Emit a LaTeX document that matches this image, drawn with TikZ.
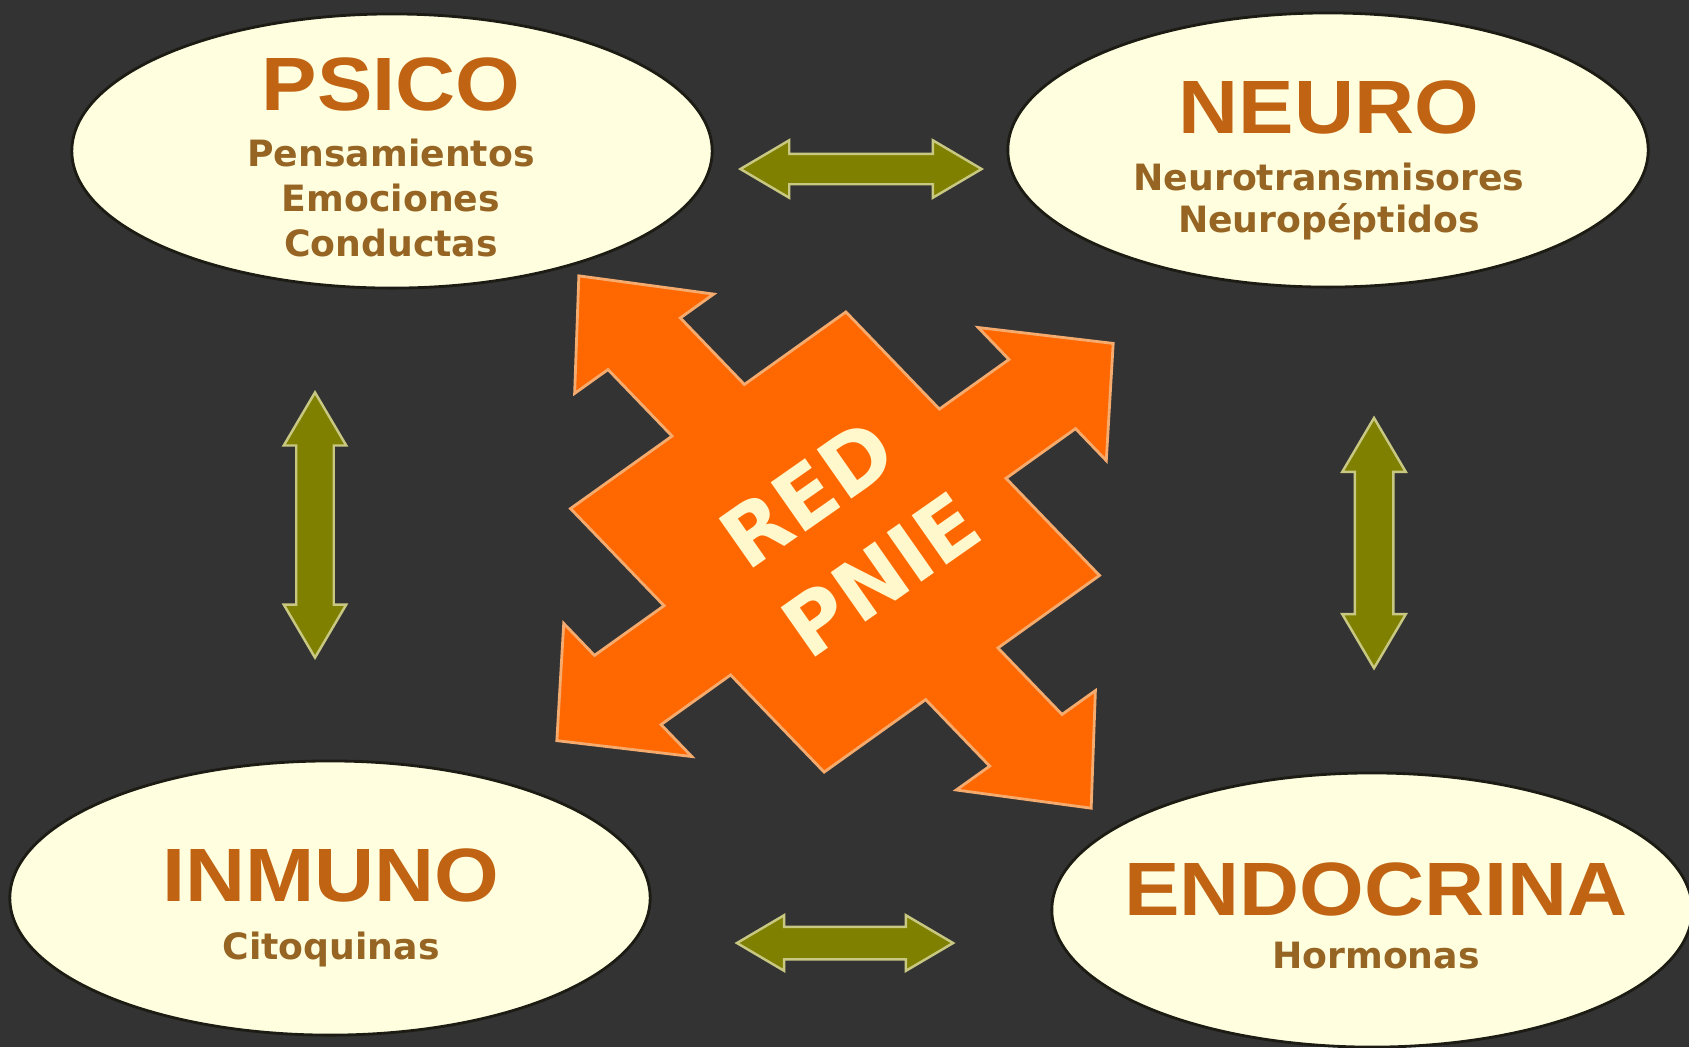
\documentclass[tikz,border=0pt]{standalone}
\usepackage{fontspec}
\usepackage{tikz}
\usetikzlibrary{shapes,positioning,calc}
\definecolor{bgdark}{RGB}{51,51,51}
\definecolor{cream}{RGB}{255,255,224}
\definecolor{rimdark}{RGB}{28,28,20}
\definecolor{titlebrown}{RGB}{192,100,20}
\definecolor{subbrown}{RGB}{150,100,35}
\definecolor{olivefill}{RGB}{128,128,0}
\definecolor{oliverim}{RGB}{200,200,130}
\definecolor{pnieorange}{RGB}{255,104,0}
\definecolor{pnierim}{RGB}{245,170,110}
\definecolor{pnietext}{RGB}{255,248,205}
\newfontfamily\titlefont[FakeStretch=1.1]{Liberation Sans}
\newfontfamily\subfont{DejaVu Sans}

\begin{document}
\begin{tikzpicture}[x=0.01cm, y=-0.01cm,
    lobe/.style={ellipse, fill=cream, draw=rimdark, line width=0.8pt, inner sep=0pt,
      minimum width=6.4cm, minimum height=2.74cm},
    lobetitle/.style={anchor=north, inner sep=0pt, text=titlebrown,
      font=\titlefont\bfseries\fontsize{21.5}{24}\selectfont},
    lobesub/.style={inner sep=0pt, text=subbrown, align=center,
      font=\subfont\bfseries\fontsize{10.3}{12.8}\selectfont},
    link/.style={double arrow, fill=olivefill, draw=oliverim, line width=0.7pt,
      inner sep=0pt, double arrow tip angle=61, text height=#1, text depth=#1},
    link/.default=0.15cm]
    \path[use as bounding box, fill=bgdark] (0,0) rectangle (1689,1047);

    \begin{scope}[shift={(835,542)}, x={(2.78cm,1.985cm)}, y={(-2.56cm,2.66cm)}]
      \draw[fill=pnieorange, draw=pnierim, line width=0.8pt]
        (0,1) -- (0.25,0.745) -- (0.13,0.745) -- (0.13,0.495) -- (0.495,0.495)
        -- (0.495,0.13) -- (0.745,0.13) -- (0.745,0.25) -- (1,0)
        -- (0.745,-0.25) -- (0.745,-0.13) -- (0.495,-0.13) -- (0.495,-0.495)
        -- (0.13,-0.495) -- (0.13,-0.745) -- (0.25,-0.745) -- (0,-1)
        -- (-0.25,-0.745) -- (-0.13,-0.745) -- (-0.13,-0.495) -- (-0.495,-0.495)
        -- (-0.495,-0.13) -- (-0.745,-0.13) -- (-0.745,-0.25) -- (-1,0)
        -- (-0.745,0.25) -- (-0.745,0.13) -- (-0.495,0.13) -- (-0.495,0.495)
        -- (-0.13,0.495) -- (-0.13,0.745) -- (-0.25,0.745) -- cycle;
    \end{scope}
    \node[rotate=35, text=pnietext, align=left, inner sep=0pt,
      font=\subfont\bfseries\fontsize{23.5}{30.7}\selectfont] (red) at (850,530) {RED\\PNIE};

    \node[lobe] (psico) at (392,151) {};
    \node[lobe] (neuro) at (1328,150) {};
    \node[lobe] (inmuno) at (330,898) {};
    \node[lobe] (endo) at (1372,910) {};

    \node[link=0.14cm, minimum height=2.41cm, double arrow head extend=0.135cm]
      (psicoNeuro) at (861,169) {};
    \node[link=0.15cm, minimum height=2.16cm, double arrow head extend=0.115cm]
      (inmunoEndo) at (845,943) {};
    \node[link=0.175cm, rotate=90, minimum height=2.65cm, double arrow head extend=0.125cm]
      (psicoInmuno) at (315,525) {};
    \node[link=0.18cm, rotate=90, minimum height=2.50cm, double arrow head extend=0.125cm]
      (neuroEndo) at (1374,543) {};

    \node[lobetitle] (psicoT) at (391,57) {PSICO};
    \node[lobesub, below=0.26cm of psicoT] (psicoS) {Pensamientos\\Emociones\\Conductas};
    \node[lobetitle] (neuroT) at (1329,80) {NEURO};
    \node[lobesub, below=0.27cm of neuroT, font=\subfont\bfseries\fontsize{10.3}{12}\selectfont]
      (neuroS) {Neurotransmisores\\Neuropéptidos};
    \node[lobetitle] (inmunoT) at (331,848) {INMUNO};
    \node[lobesub, below=0.28cm of inmunoT] (inmunoS) {Citoquinas};
    \node[lobetitle] (endoT) at (1376,862) {ENDOCRINA};
    \node[lobesub, below=0.24cm of endoT] (endoS) {Hormonas};
\end{tikzpicture}
\end{document}
